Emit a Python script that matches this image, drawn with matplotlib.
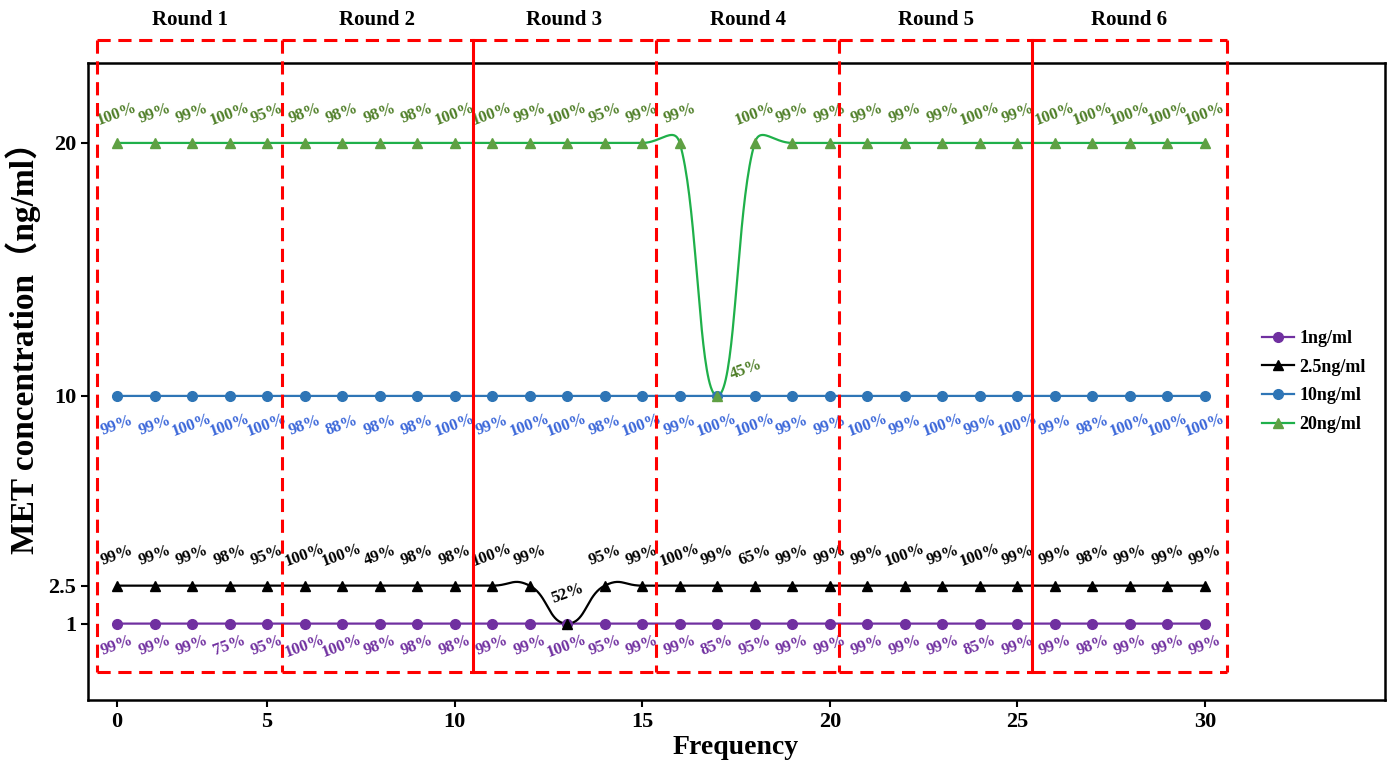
import numpy as np
import matplotlib
matplotlib.use('Agg')
import matplotlib.pyplot as plt
from matplotlib.lines import Line2D
from matplotlib.transforms import blended_transform_factory

# ---------------- data ----------------
frequency = list(range(1, 31))

conc_1 = [1, 1, 1, 1, 1, 1, 1, 1, 1, 1, 1, 1, 1, 1, 1,
          1, 1, 1, 1, 1, 1, 1, 1, 1, 1, 1, 1, 1, 1, 1]
conc_2p5 = [2.5, 2.5, 2.5, 2.5, 2.5, 2.5, 2.5, 2.5, 2.5, 2.5, 2.5, 2.5, 1, 2.5, 2.5,
            2.5, 2.5, 2.5, 2.5, 2.5, 2.5, 2.5, 2.5, 2.5, 2.5, 2.5, 2.5, 2.5, 2.5, 2.5]
conc_10 = [10, 10, 10, 10, 10, 10, 10, 10, 10, 10, 10, 10, 10, 10, 10,
           10, 10, 10, 10, 10, 10, 10, 10, 10, 10, 10, 10, 10, 10, 10]
conc_20 = [20, 20, 20, 20, 20, 20, 20, 20, 20, 20, 20, 20, 20, 20, 20,
           20, 10, 20, 20, 20, 20, 20, 20, 20, 20, 20, 20, 20, 20, 20]

pct_1 = [99, 99, 99, 75, 95, 100, 100, 98, 98, 98, 99, 99, 100, 95, 99,
         99, 85, 95, 99, 99, 99, 99, 99, 85, 99, 99, 98, 99, 99, 99]
pct_2p5 = [99, 99, 99, 98, 95, 100, 100, 49, 98, 98, 100, 99, 52, 95, 99,
           100, 99, 65, 99, 99, 99, 100, 99, 100, 99, 99, 98, 99, 99, 99]
pct_10 = [99, 99, 100, 100, 100, 98, 88, 98, 98, 100, 99, 100, 100, 98, 100,
          99, 100, 100, 99, 99, 100, 99, 100, 99, 100, 99, 98, 100, 100, 100]
pct_20 = [100, 99, 99, 100, 95, 98, 98, 98, 98, 100, 100, 99, 100, 95, 99,
          99, 45, 100, 99, 99, 99, 99, 99, 100, 99, 100, 100, 100, 100, 100]

series_names = ['1ng/ml', '2.5ng/ml', '10ng/ml', '20ng/ml']
round_labels = ['Round 1', 'Round 2', 'Round 3', 'Round 4', 'Round 5', 'Round 6']
xtick_pos = [1, 5, 10, 15, 20, 25, 30]
xtick_labels = ['0', '5', '10', '15', '20', '25', '30']
ytick_pos = [1, 2.5, 10, 20]
ytick_labels = ['1', '2.5', '10', '20']

# ---------------- layout / style ----------------
plt.rcParams['font.family'] = ['Liberation Serif', 'Noto Sans CJK SC', 'DejaVu Sans']
plt.rcParams['font.weight'] = 'bold'
plt.rcParams['lines.scale_dashes'] = False

W, H = 1392, 765
fig = plt.figure(figsize=(W / 100, H / 100), dpi=100)
ax = fig.add_axes([88 / W, 1 - 700 / H, (1385 - 88) / W, (700 - 63) / H])
ax.set_xlim(0.227, 34.8)
ax.set_ylim(-2.02, 23.16)


def smooth_curve(ax, xs, ys, f=0.25, clamp=0.5, n=40):
    """Excel-like smoothed line computed in display space."""
    pts = ax.transData.transform(np.column_stack([xs, ys]))
    N = len(pts)
    out = [pts[0]]
    for i in range(N - 1):
        p0 = pts[i - 1] if i > 0 else pts[i]
        p1 = pts[i]
        p2 = pts[i + 1]
        p3 = pts[i + 2] if i + 2 < N else pts[i + 1]
        d12 = np.hypot(*(p2 - p1))

        def ctrl(a, b):
            v = b - a
            L = np.hypot(*v)
            if L == 0:
                return v * 0
            off = min(f * L, clamp * d12)
            return v / L * off

        c1 = p1 + ctrl(p0, p2)
        c2 = p2 - ctrl(p1, p3)
        t = np.linspace(0, 1, n)[1:][:, None]
        seg = ((1 - t) ** 3) * p1 + 3 * ((1 - t) ** 2 * t) * c1 + 3 * ((1 - t) * t ** 2) * c2 + (t ** 3) * p2
        out.extend(seg)
    out = np.array(out)
    return ax.transData.inverted().transform(out)


specs = [
    # name, y, pct, line colour, marker, marker face, label colour, label offset (pt)
    (series_names[0], conc_1, pct_1, '#7030a0', 'o', '#7030a0', '#7030a0', (0, -16)),
    (series_names[1], conc_2p5, pct_2p5, '#000000', '^', '#000000', '#000000', (0, 22)),
    (series_names[2], conc_10, pct_10, '#2e75b6', 'o', '#2e75b6', '#3a66d9', (0, -21)),
    (series_names[3], conc_20, pct_20, '#1fb04a', '^', '#5fa043', '#4f7f28', (0, 21)),
]

handles = []
for name, ys, pcts, lc, mk, mfc, tc, off in specs:
    curve = smooth_curve(ax, frequency, ys)
    ax.plot(curve[:, 0], curve[:, 1], color=lc, lw=1.6, zorder=3, solid_capstyle='round')
    ms = 7 if mk == 'o' else 7.5
    ax.plot(frequency, ys, linestyle='none', marker=mk, ms=ms, color=mfc,
            markeredgecolor=mfc, zorder=4)
    handles.append(Line2D([0], [0], color=lc, lw=1.6, marker=mk, ms=ms,
                          markerfacecolor=mfc, markeredgecolor=mfc))
    top = max(ys)
    for x, y, p in zip(frequency, ys, pcts):
        o = off
        if name == '20ng/ml' and y < top:
            o = (21, 19)
        ax.annotate(f'{p}%', (x, y), xytext=o, textcoords='offset points',
                    ha='center', va='center', rotation=20, fontsize=12,
                    color=tc, fontweight='bold', zorder=5)

# round boxes
round_edges = [0.47, 5.4, 10.48, 15.38, 20.25, 25.39, 30.59]
box_top, box_bottom = 24.07, -0.9
red = '#ff0000'
dash = (0, (9.5, 5.5))
for i in range(6):
    x0, x1 = round_edges[i], round_edges[i + 1]
    for yb in (box_top, box_bottom):
        ax.plot([x0, x1], [yb, yb], color=red, lw=2.2, linestyle=dash,
                clip_on=False, zorder=6)
for i, xe in enumerate(round_edges):
    ls = '-' if i in (2, 5) else dash
    ax.plot([xe, xe], [box_top, box_bottom], color=red, lw=2.2, linestyle=ls,
            clip_on=False, zorder=6)

trans = blended_transform_factory(ax.transData, fig.transFigure)
for i, lab in enumerate(round_labels):
    xc = (round_edges[i] + round_edges[i + 1]) / 2
    ax.text(xc, 1 - 20 / H, lab, transform=trans, ha='center', va='center',
            fontsize=15, fontweight='bold')

# axes styling
ax.set_xticks(xtick_pos)
ax.set_xticklabels(xtick_labels)
ax.set_yticks(ytick_pos)
ax.set_yticklabels(ytick_labels)
ax.tick_params(axis='both', direction='out', length=5, width=1.5, labelsize=16,
               top=False, right=False)
for lab in ax.get_xticklabels() + ax.get_yticklabels():
    lab.set_fontweight('bold')
for sp in ax.spines.values():
    sp.set_linewidth(1.8)

ax.set_xlabel('Frequency', fontsize=20, fontweight='bold')
ax.xaxis.set_label_coords(0.499, -0.075)
ax.xaxis.label.set_va('center')
ax.set_ylabel('MET concentration（ng/ml）', fontsize=24, fontweight='bold')
ax.yaxis.set_label_coords(-0.05, 0.565)
ax.yaxis.label.set_va('center')

leg = ax.legend(handles, series_names, loc='center left', bbox_to_anchor=(0.905, 0.5),
                frameon=False, fontsize=13, handlelength=1.8, handletextpad=0.3,
                labelspacing=0.65, borderpad=0, borderaxespad=0)
for t in leg.get_texts():
    t.set_fontweight('bold')

fig.savefig('out.png', dpi=100)
